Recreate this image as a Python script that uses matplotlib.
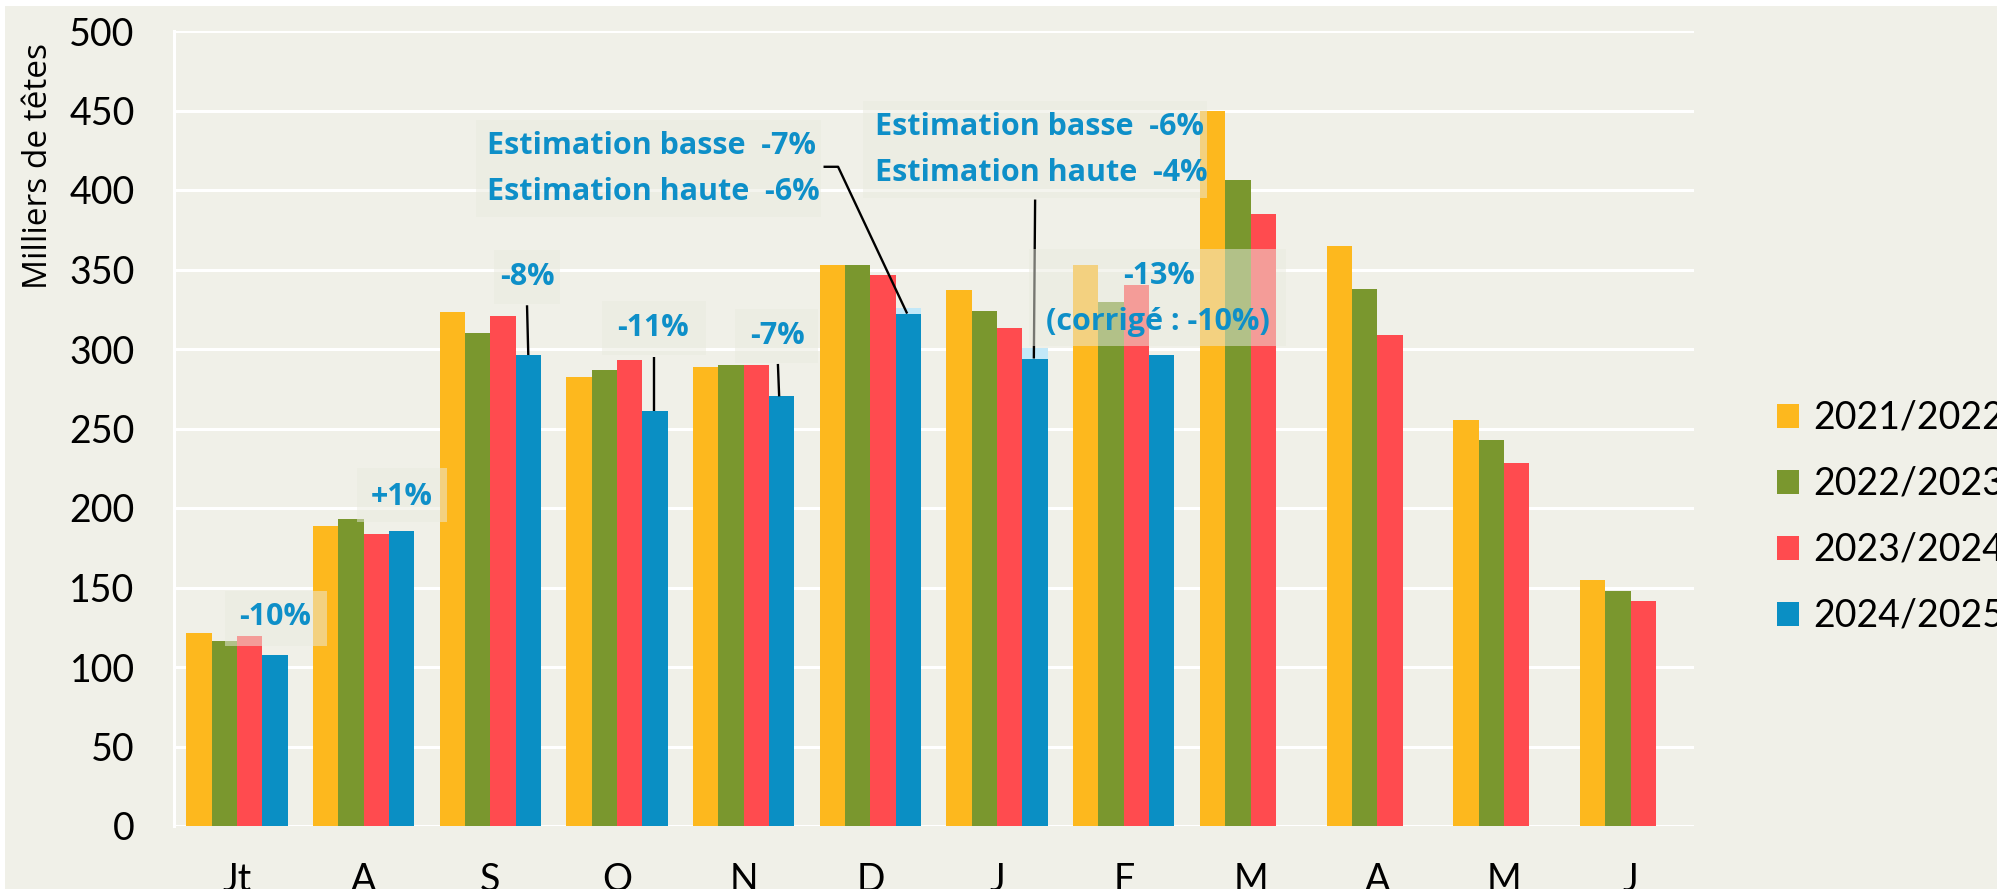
import numpy as np
import matplotlib
matplotlib.use("Agg")
import matplotlib.pyplot as plt
from matplotlib.patches import Rectangle, Patch

plt.rcParams['font.family'] = ['Lato', 'DejaVu Sans']

# ---------------- data ----------------
months = ['Jt', 'A', 'S', 'O', 'N', 'D', 'J', 'F', 'M', 'A', 'M', 'J']
seasons = ['2021/2022', '2022/2023', '2023/2024', '2024/2025']
v_2122 = [121.5, 188.5, 323.5, 282.4, 288.4, 352.6, 337.3, 352.6, 450.0, 365.0, 255.5, 155.0]
v_2223 = [116.6, 193.1, 309.8, 287.0, 290.1, 352.6, 323.7, 329.8, 406.0, 337.6, 243.0, 147.5]
v_2324 = [119.7, 183.9, 320.5, 293.0, 290.1, 346.6, 313.0, 340.5, 384.8, 308.8, 228.0, 141.5]
v_2425 = [107.5, 185.6, 296.2, 261.0, 270.2, 322.3, 293.5, 296.2, np.nan, np.nan, np.nan, np.nan]
v_2425_haute = [np.nan, np.nan, np.nan, np.nan, np.nan, 326.0, 300.6, np.nan, np.nan, np.nan, np.nan, np.nan]

colors = ['#FDB81E', '#7A972E', '#FF4B4F', '#0A8FC4']
light_blue = '#C2E8F8'
BG = '#F0F0E8'
ANN = '#0E8FC8'
BOXC = '#EAEBDF'
ANN_FONT = ['Open Sans', 'DejaVu Sans']

W, H = 1997, 889
fig = plt.figure(figsize=(W / 100, H / 100), dpi=100, facecolor='white')
fig.patches.append(Rectangle((5 / W, 0), 1, 1 - 6 / H, transform=fig.transFigure,
                             facecolor=BG, edgecolor='none', zorder=-10))

ax = fig.add_axes([173.5 / W, 63 / H, 1520.5 / W, 795 / H])
ax.patch.set_visible(False)

x = np.arange(len(months))
bw = 0.2
offs = [-0.3, -0.1, 0.1, 0.3]
series = [v_2122, v_2223, v_2324, v_2425]
for vals, off, c in zip(series, offs, colors):
    ax.bar(x + off, np.array(vals, dtype=float), width=bw, color=c, linewidth=0, zorder=2)

low = np.array(v_2425, dtype=float)
high = np.array(v_2425_haute, dtype=float)
ax.bar(x + 0.3, high - low, bottom=low, width=bw, color=light_blue, linewidth=0, zorder=2)

ax.set_xlim(-0.5, 11.5)
ax.set_ylim(0, 500)
ax.set_yticks(np.arange(0, 501, 50))
ax.set_xticks(x)
ax.set_xticklabels(months)
ax.grid(axis='y', color='white', linewidth=2.2, zorder=0)
ax.set_axisbelow(True)
for s in ['top', 'right', 'bottom']:
    ax.spines[s].set_visible(False)
ax.spines['left'].set_color('white')
ax.spines['left'].set_linewidth(2.2)
ax.tick_params(axis='both', length=0, labelsize=27, colors='black')
ax.tick_params(axis='y', pad=28)
ax.tick_params(axis='x', pad=26)

fig.text(39 / W, 1 - 166 / H, 'Milliers de têtes', rotation=90, ha='center', va='center',
         fontsize=24, color='black', family=ANN_FONT)

# ---------------- annotations ----------------
def box(x0, x1, y0, y1):
    ax.add_patch(Rectangle((x0, y0), x1 - x0, y1 - y0, facecolor=BOXC, alpha=0.51,
                           edgecolor='none', zorder=4))

def line(xs, ys):
    ax.plot(xs, ys, color='black', linewidth=1.7, zorder=3, solid_capstyle='butt')

def txt(xp, yp, s, ha='center'):
    ax.text(xp, yp, s, color=ANN, fontsize=22, fontweight='bold', ha=ha, va='center',
            zorder=5, family=ANN_FONT)

box(-0.09, 0.71, 113, 148)
txt(0.305, 131.5, '-10%')

box(0.95, 1.66, 191, 225)
txt(1.30, 207, '+1%')

box(2.03, 2.55, 328.5, 362)
line([2.29, 2.30], [327.5, 296.2])
txt(2.29, 345, '-8%')

box(2.88, 3.70, 296, 330)
line([3.29, 3.29], [295, 261])
txt(3.285, 313, '-11%')

box(3.93, 4.59, 291, 325)
line([4.27, 4.28], [290.6, 270.2])
txt(4.266, 308.4, '-7%')

box(1.89, 4.61, 383, 444)
line([4.63, 4.745, 5.29], [414.6, 414.6, 322.3])
txt(1.976, 427.7, 'Estimation basse  -7%', ha='left')
txt(1.976, 398.9, 'Estimation haute  -6%', ha='left')

line([6.30, 6.29], [394, 294])
box(4.94, 7.655, 395, 456)
txt(5.04, 439.7, 'Estimation basse  -6%', ha='left')
txt(5.04, 411, 'Estimation haute  -4%', ha='left')

box(6.25, 8.28, 302, 363)
txt(7.276, 346, '-13%')
txt(7.27, 316.8, '(corrigé : -10%)')

# ---------------- legend ----------------
handles = [Patch(facecolor=c, edgecolor='none') for c in colors]
fig.legend(handles, seasons, loc='center left', bbox_to_anchor=(1777 / W, 1 - 517 / H),
           frameon=False, fontsize=27, handlelength=0.59, handleheight=0.59,
           handletextpad=0.37, labelspacing=0.8, borderpad=0, borderaxespad=0)

fig.savefig('out.png', dpi=100, facecolor='white')
